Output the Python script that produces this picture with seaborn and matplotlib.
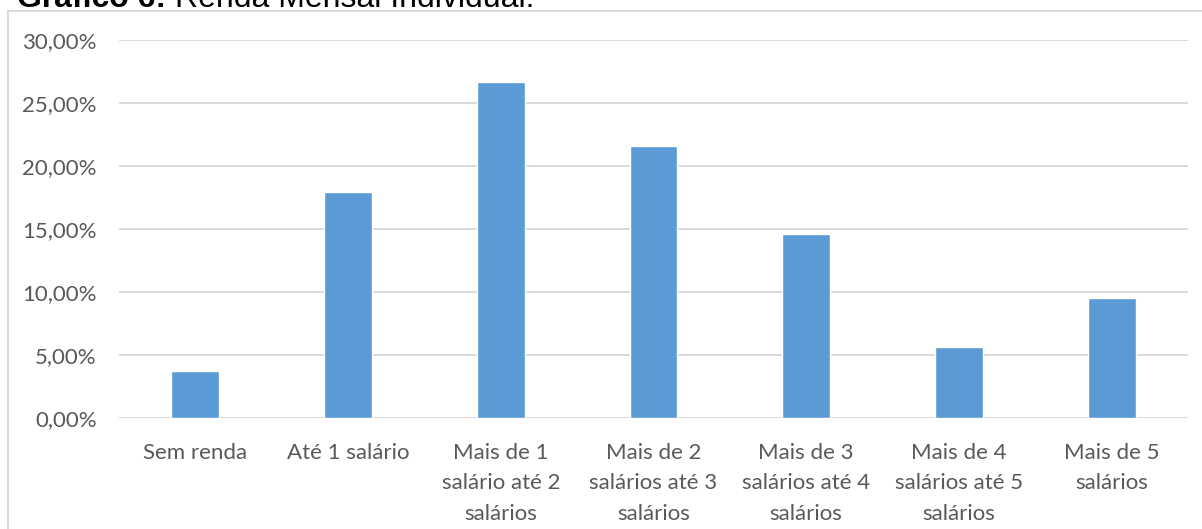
import numpy as np
import pandas as pd
import matplotlib
matplotlib.use("Agg")
import matplotlib.pyplot as plt
import seaborn as sns
from matplotlib.ticker import FuncFormatter, MultipleLocator
from matplotlib.patches import Rectangle

# faixas de renda e percentuais
categorias = [
    "Sem renda",
    "Até 1 salário",
    "Mais de 1\nsalário até 2\nsalários",
    "Mais de 2\nsalários até 3\nsalários",
    "Mais de 3\nsalários até 4\nsalários",
    "Mais de 4\nsalários até 5\nsalários",
    "Mais de 5\nsalários",
]
percentuais = [0.037, 0.179, 0.267, 0.216, 0.146, 0.056, 0.095]

df = pd.DataFrame({"faixa": categorias, "pct": percentuais})

sns.set_style("white")
plt.rcParams["font.family"] = ["Lato", "DejaVu Sans"]

W, H = 1202, 529
fig = plt.figure(figsize=(W / 100, H / 100), dpi=100)
ax = fig.add_axes([119 / W, 1 - 418 / H, (1188 - 119) / W, (418 - 40) / H])

sns.barplot(data=df, x="faixa", y="pct", color="#5b9bd5", width=0.314,
            saturation=1, ax=ax, zorder=3)

ax.set_ylim(0, 0.30)
ax.set_xlim(-0.5, 6.5)
ax.yaxis.set_major_locator(MultipleLocator(0.05))
ax.yaxis.set_major_formatter(FuncFormatter(lambda v, p: f"{v*100:.2f}%".replace(".", ",")))
ax.grid(axis="y", color="#d9d9d9", linewidth=1.4, zorder=0)
ax.set_axisbelow(True)
for s in ax.spines.values():
    s.set_visible(False)
ax.set_xlabel("")
ax.set_ylabel("")
ax.tick_params(axis="both", length=0, labelsize=16, colors="#595959")
ax.tick_params(axis="y", pad=16)
ax.tick_params(axis="x", pad=18)
for lbl in ax.get_xticklabels():
    lbl.set_linespacing(1.65)

# moldura do grafico (cortada na borda)
fig.patches.append(Rectangle((7.5 / W, -0.05), 1.1, 1.05 - 10.5 / H,
                             transform=fig.transFigure, fill=False,
                             edgecolor="#d9d9d9", linewidth=1.4))

# titulo cortado no topo
t1 = fig.text(17 / W, 1 - 7 / H, "Gráfico 6:", fontsize=23, fontweight="bold",
              family="Liberation Sans", va="baseline", ha="left", color="black")
fig.canvas.draw()
bb = t1.get_window_extent()
fig.text((bb.x1 + 9) / W, 1 - 7 / H, "Renda Mensal Individual.", fontsize=23,
         family="Liberation Sans", va="baseline", ha="left", color="black")

fig.savefig("out.png", dpi=100)
